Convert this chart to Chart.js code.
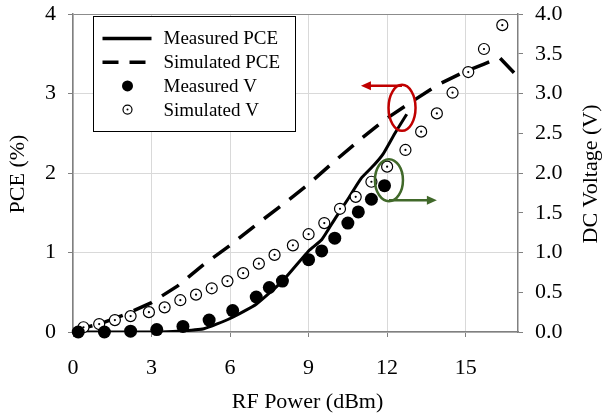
<!DOCTYPE html>
<html>
<head>
<meta charset="utf-8">
<title>PCE and DC Voltage vs RF Power</title>
<script src="https://cdn.jsdelivr.net/npm/chart.js@4.4.1/dist/chart.umd.min.js"></script>
<style>
  html, body { margin: 0; padding: 0; background: #fff; }
  canvas { display: block; }
</style>
</head>
<body>
<canvas id="pce-chart" width="605" height="419"></canvas>
<script>
const FONT = "'Liberation Serif', 'Times New Roman', serif";

// measured PCE (%) vs RF power (dBm)
const measPcePower = [0, 1, 2, 3, 4, 5, 6, 7, 8, 9, 9.5, 10, 10.5, 11, 11.5, 11.85, 12.3, 12.75];
const measPce = [0, 0, 0, 0, 0.01, 0.04, 0.17, 0.35, 0.64, 1.02, 1.16, 1.42, 1.67, 1.93, 2.1, 2.24, 2.5, 2.74];

// simulated PCE (%)
const simPcePower = [0, 1, 2, 3, 4, 5, 6, 7, 8, 9, 10, 11, 12, 13, 14, 15, 15.7, 16.3, 17];
const simPce = [0.02, 0.1, 0.22, 0.37, 0.58, 0.85, 1.09, 1.35, 1.6, 1.86, 2.15, 2.43, 2.69, 2.91, 3.12, 3.28, 3.37, 3.45, 3.21];

// measured DC voltage (V)
const measVPower = [0.2, 1.2, 2.2, 3.2, 4.2, 5.2, 6.1, 7.0, 7.5, 8.0, 9.0, 9.5, 10.0, 10.5, 10.9, 11.4, 11.9];
const measV = [0, 0, 0.01, 0.03, 0.07, 0.15, 0.27, 0.44, 0.56, 0.64, 0.91, 1.02, 1.18, 1.37, 1.51, 1.67, 1.84];

// simulated DC voltage (V)
const simVPower = [0.4, 1.0, 1.6, 2.2, 2.9, 3.5, 4.1, 4.7, 5.3, 5.9, 6.5, 7.1, 7.7, 8.4, 9.0, 9.6, 10.2, 10.8, 11.4, 12.0, 12.7, 13.3, 13.9, 14.5, 15.1, 15.7, 16.4];
const simV = [0.06, 0.1, 0.15, 0.2, 0.25, 0.31, 0.4, 0.47, 0.55, 0.64, 0.74, 0.86, 0.97, 1.09, 1.23, 1.37, 1.55, 1.7, 1.89, 2.08, 2.29, 2.52, 2.75, 3.01, 3.27, 3.56, 3.86];

const xTicks = [0, 3, 6, 9, 12, 15];
const pceTicks = [0, 1, 2, 3, 4];
const voltTicks = [0, 0.5, 1, 1.5, 2, 2.5, 3, 3.5, 4];

function toPoints(xs, ys) {
    return xs.map((x, i) => ({ x: x, y: ys[i] }));
}

// the ellipses with arrows that tie each curve to its axis
const callouts = [
    { x: 12.57, y: 2.82, rx: 13.5, ry: 23, arrowTo: 11.0, side: 'top', color: '#c00000' },
    { x: 12.07, y: 1.91, rx: 14, ry: 21, arrowTo: 13.9, side: 'bottom', color: '#41692a' }
];

function drawArrow(ctx, x1, y, x2, color) {
    const dir = x2 > x1 ? 1 : -1;
    ctx.strokeStyle = color;
    ctx.fillStyle = color;
    ctx.lineWidth = 2.5;
    ctx.beginPath();
    ctx.moveTo(x1, y);
    ctx.lineTo(x2 - dir * 8, y);
    ctx.stroke();
    ctx.beginPath();
    ctx.moveTo(x2, y);
    ctx.lineTo(x2 - dir * 10, y - 4.5);
    ctx.lineTo(x2 - dir * 10, y + 4.5);
    ctx.closePath();
    ctx.fill();
}

const calloutPlugin = {
    id: 'callouts',
    afterDatasetsDraw(chart) {
        const ctx = chart.ctx;
        const xs = chart.scales.x;
        const ys = chart.scales.y;
        ctx.save();
        callouts.forEach(c => {
            const cx = xs.getPixelForValue(c.x);
            const cy = ys.getPixelForValue(c.y);
            ctx.strokeStyle = c.color;
            ctx.lineWidth = 2.5;
            ctx.beginPath();
            ctx.ellipse(cx, cy, c.rx, c.ry, 0, 0, Math.PI * 2);
            ctx.stroke();
            const ay = c.side === 'top' ? cy - c.ry + 1 : cy + c.ry - 1;
            drawArrow(ctx, cx, ay, xs.getPixelForValue(c.arrowTo), c.color);
        });
        ctx.restore();
    }
};

// small centre dot inside each simulated-voltage ring
const ringDots = {
    id: 'ringDots',
    afterDatasetsDraw(chart) {
        const ctx = chart.ctx;
        chart.data.datasets.forEach((ds, i) => {
            if (!ds.ringDot) return;
            ctx.save();
            ctx.fillStyle = '#000';
            chart.getDatasetMeta(i).data.forEach(pt => {
                ctx.beginPath();
                ctx.arc(pt.x, pt.y, 1.1, 0, Math.PI * 2);
                ctx.fill();
            });
            ctx.restore();
        });
    }
};

// legend box drawn inside the plot
const legendItems = [
    { text: 'Measured PCE', kind: 'solid' },
    { text: 'Simulated PCE', kind: 'dash' },
    { text: 'Measured V', kind: 'dot' },
    { text: 'Simulated V', kind: 'ring' }
];

const boxLegend = {
    id: 'boxLegend',
    afterDraw(chart) {
        const ctx = chart.ctx;
        const area = chart.chartArea;
        const left = Math.round(area.left + 20) + 0.5;
        const top = Math.round(area.top + 2) + 0.5;
        const w = 202;
        const h = 115;
        ctx.save();
        ctx.fillStyle = '#fff';
        ctx.fillRect(left, top, w, h);
        ctx.strokeStyle = '#000';
        ctx.lineWidth = 1;
        ctx.strokeRect(left, top, w, h);

        ctx.font = '19px ' + FONT;
        ctx.textBaseline = 'middle';
        legendItems.forEach((item, i) => {
            const y = top + 22 + i * 23.7;
            const sx = left + 9;
            ctx.strokeStyle = '#000';
            ctx.fillStyle = '#000';
            if (item.kind === 'solid' || item.kind === 'dash') {
                ctx.lineWidth = 3.5;
                ctx.setLineDash(item.kind === 'dash' ? [16, 11] : []);
                ctx.beginPath();
                ctx.moveTo(sx, y);
                ctx.lineTo(sx + 49, y);
                ctx.stroke();
                ctx.setLineDash([]);
            } else if (item.kind === 'dot') {
                ctx.beginPath();
                ctx.arc(sx + 25, y, 5.5, 0, Math.PI * 2);
                ctx.fill();
            } else {
                ctx.lineWidth = 1.2;
                ctx.beginPath();
                ctx.arc(sx + 25, y, 4.5, 0, Math.PI * 2);
                ctx.stroke();
                ctx.beginPath();
                ctx.arc(sx + 25, y, 1, 0, Math.PI * 2);
                ctx.fill();
            }
            ctx.fillText(item.text, left + 70, y + 1);
        });
        ctx.restore();
    }
};

// axis titles (both vertical ones read bottom to top)
const axisTitles = {
    id: 'axisTitles',
    afterDraw(chart) {
        const ctx = chart.ctx;
        const area = chart.chartArea;
        const midY = (area.top + area.bottom) / 2;
        ctx.save();
        ctx.fillStyle = '#000';
        ctx.font = '22px ' + FONT;
        ctx.textAlign = 'center';
        ctx.textBaseline = 'middle';
        ctx.fillText('RF Power (dBm)', (area.left + area.right) / 2 + 12, 402);
        [[18, 'PCE (%)'], [591, 'DC Voltage (V)']].forEach(([x, text]) => {
            ctx.save();
            ctx.translate(x, midY + 1);
            ctx.rotate(-Math.PI / 2);
            ctx.fillText(text, 0, 0);
            ctx.restore();
        });
        ctx.restore();
    }
};

const axisGray = '#808080';

// fixed side widths; drop the extra top/bottom room Chart.js keeps for end labels
function fixWidth(w) {
    return scale => {
        scale.width = w;
        scale.paddingTop = 0;
        scale.paddingBottom = 0;
    };
}

new Chart(document.getElementById('pce-chart'), {
    type: 'line',
    data: {
        datasets: [
            {
                label: 'Measured V',
                type: 'scatter',
                data: toPoints(measVPower, measV),
                yAxisID: 'y2',
                pointStyle: 'circle',
                pointRadius: 6.5,
                pointBackgroundColor: '#000',
                pointBorderWidth: 0,
                showLine: false,
                clip: false,
                order: 1
            },
            {
                label: 'Simulated V',
                type: 'scatter',
                data: toPoints(simVPower, simV),
                yAxisID: 'y2',
                pointStyle: 'circle',
                pointRadius: 5.5,
                pointBackgroundColor: '#fff',
                pointBorderColor: '#000',
                pointBorderWidth: 1.2,
                showLine: false,
                clip: false,
                ringDot: true,
                order: 2
            },
            {
                label: 'Measured PCE',
                data: toPoints(measPcePower, measPce),
                yAxisID: 'y',
                borderColor: '#000',
                borderWidth: 3,
                pointRadius: 0,
                tension: 0.15,
                fill: false,
                order: 3
            },
            {
                label: 'Simulated PCE',
                data: toPoints(simPcePower, simPce),
                yAxisID: 'y',
                borderColor: '#000',
                borderWidth: 3.5,
                borderDash: [20, 12],
                pointRadius: 0,
                tension: 0,
                fill: false,
                order: 4
            }
        ]
    },
    options: {
        responsive: false,
        animation: false,
        layout: {
            padding: { top: 14, right: 0, left: 0, bottom: 0 }
        },
        plugins: {
            legend: { display: false },
            tooltip: { enabled: false }
        },
        scales: {
            x: {
                type: 'linear',
                min: 0,
                max: 17,
                afterBuildTicks: scale => { scale.ticks = xTicks.map(v => ({ value: v })); },
                afterFit: scale => { scale.height = 87; },
                ticks: {
                    color: '#000',
                    font: { family: FONT, size: 22 },
                    padding: 18,
                    maxRotation: 0
                },
                grid: {
                    color: '#d9d9d9',
                    tickColor: axisGray,
                    tickLength: 5
                },
                border: { color: axisGray, width: 1.5 }
            },
            y: {
                position: 'left',
                min: 0,
                max: 4,
                afterBuildTicks: scale => { scale.ticks = pceTicks.map(v => ({ value: v })); },
                afterFit: fixWidth(73),
                ticks: {
                    color: '#000',
                    font: { family: FONT, size: 22 },
                    padding: 12
                },
                grid: {
                    color: ctx => ctx.tick && ctx.tick.value === 4 ? '#8c8c8c' : '#d9d9d9',
                    tickColor: axisGray,
                    tickLength: 5
                },
                border: { color: axisGray, width: 1.5 }
            },
            y2: {
                position: 'right',
                min: 0,
                max: 4,
                afterBuildTicks: scale => { scale.ticks = voltTicks.map(v => ({ value: v })); },
                afterFit: fixWidth(87),
                ticks: {
                    color: '#000',
                    font: { family: FONT, size: 22 },
                    padding: 12,
                    callback: v => v.toFixed(1)
                },
                grid: {
                    drawOnChartArea: false,
                    tickColor: axisGray,
                    tickLength: 5
                },
                border: { color: axisGray, width: 1.5 }
            }
        }
    },
    plugins: [calloutPlugin, ringDots, boxLegend, axisTitles]
});
</script>
</body>
</html>
